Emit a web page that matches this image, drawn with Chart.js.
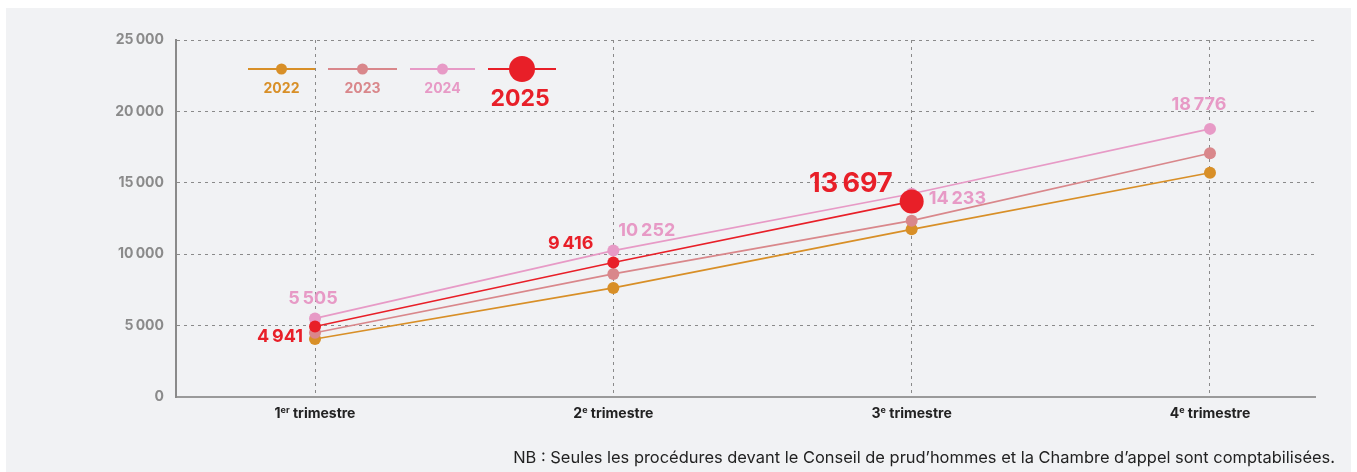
<!DOCTYPE html>
<html>
<head>
<meta charset="utf-8">
<script src="https://cdn.jsdelivr.net/npm/chart.js@4"></script>
<style>
  html, body { margin: 0; padding: 0; background: #fff; }
  #panel {
    position: absolute; left: 6px; top: 8px; width: 1345px; height: 464px;
    background: #F1F2F4;
  }
  #wrap { position: absolute; left: 0; top: 0; width: 1357px; height: 472px; }
  #note {
    position: absolute; right: 22px; top: 447px;
    font-family: Inter, "Noto Sans", sans-serif; font-size: 16.45px; color: #222;
  }
</style>
</head>
<body>
<div id="panel"></div>
<div id="wrap"><canvas id="chart" width="1357" height="472"></canvas></div>
<div id="note">NB : Seules les procédures devant le Conseil de prud’hommes et la Chambre d’appel sont comptabilisées.</div>
<script>
// Quarters (x categories)
const quarters = ['1', '2', '3', '4'];
const quarterSup = ['er', 'e', 'e', 'e'];
const quarterWord = 'trimestre';

// Series
const years = ['2022', '2023', '2024', '2025'];
const values2022 = [4060, 7640, 11740, 15700];
const values2023 = [4500, 8620, 12350, 17070];
const values2024 = [5505, 10252, 14233, 18776];
const values2025 = [4941, 9416, 13697, null];

const yTicks = [0, 5000, 10000, 15000, 20000, 25000];

const colors = {
  '2022': '#D88F27',
  '2023': '#D9878B',
  '2024': '#E79AC6',
  '2025': '#E81F28'
};

const FONT = 'Inter, "Noto Sans", sans-serif';

function fmt(v) {
  return String(v).replace(/\B(?=(\d{3})+(?!\d))/g, '\u202F');
}

function toPoints(arr) {
  return arr.map((v, i) => ({ x: i, y: v }));
}

// label placement for the shown values: [dx, dy, align, size]
const labelPlace = {
  '2024': [[-2, -20, 'center', 18], [5, -20, 'left', 18], [17, 5, 'left', 18], [-11, -24, 'center', 18]],
  '2025': [[-12, 10, 'right', 18], [-20, -19, 'right', 18], [-19, -18, 'right', 27]]
};

const valueLabels = {
  id: 'valueLabels',
  afterDatasetsDraw(chart) {
    const ctx = chart.ctx;
    chart.data.datasets.forEach((ds, di) => {
      const place = labelPlace[ds.label];
      if (!place) return;
      const meta = chart.getDatasetMeta(di);
      meta.data.forEach((pt, i) => {
        const v = ds.data[i];
        if (!v || v.y === null || !place[i]) return;
        const [dx, dy, align, size] = place[i];
        ctx.save();
        ctx.font = `bold ${size}px ${FONT}`;
        ctx.fillStyle = ds.borderColor;
        ctx.textAlign = align;
        ctx.textBaseline = 'middle';
        ctx.fillText(fmt(v.y), pt.x + dx, pt.y + dy);
        ctx.restore();
      });
    });
  }
};

// x labels with superscripts
const quarterLabels = {
  id: 'quarterLabels',
  afterDraw(chart) {
    const ctx = chart.ctx;
    const xs = chart.scales.x;
    const y = chart.chartArea.bottom + 17;
    quarters.forEach((q, i) => {
      const cx = xs.getPixelForValue(i);
      ctx.save();
      ctx.fillStyle = '#222';
      ctx.textBaseline = 'middle';
      ctx.font = `bold 14px ${FONT}`;
      const w1 = ctx.measureText(q).width;
      const w3 = ctx.measureText(' ' + quarterWord).width;
      ctx.font = `bold 9px ${FONT}`;
      const w2 = ctx.measureText(quarterSup[i]).width;
      let x = cx - (w1 + w2 + w3) / 2;
      ctx.textAlign = 'left';
      ctx.font = `bold 14px ${FONT}`;
      ctx.fillText(q, x, y);
      ctx.font = `bold 9px ${FONT}`;
      ctx.fillText(quarterSup[i], x + w1, y - 4);
      ctx.font = `bold 14px ${FONT}`;
      ctx.fillText(' ' + quarterWord, x + w1 + w2, y);
      ctx.restore();
    });
  }
};

// legend: line + dot, year below
const legendPos = [[248, 315], [328, 397], [410, 475], [488, 556]];
const customLegend = {
  id: 'customLegend',
  afterDraw(chart) {
    const ctx = chart.ctx;
    years.forEach((yr, i) => {
      const [x0, x1] = legendPos[i];
      const cx = (x0 + x1) / 2;
      const big = yr === '2025';
      ctx.save();
      ctx.strokeStyle = colors[yr];
      ctx.fillStyle = colors[yr];
      ctx.lineWidth = 2;
      ctx.beginPath();
      ctx.moveTo(x0, 69);
      ctx.lineTo(x1, 69);
      ctx.stroke();
      ctx.beginPath();
      ctx.arc(cx, 69, big ? 13 : 5.5, 0, Math.PI * 2);
      ctx.fill();
      ctx.textAlign = 'center';
      ctx.textBaseline = 'middle';
      ctx.font = big ? `bold 23px ${FONT}` : `bold 14px ${FONT}`;
      ctx.fillText(yr, cx - (big ? 2 : 0), big ? 99 : 89);
      ctx.restore();
    });
  }
};

function series(yr, values, radius) {
  return {
    label: yr,
    data: toPoints(values),
    borderColor: colors[yr],
    backgroundColor: colors[yr],
    pointBackgroundColor: colors[yr],
    pointBorderWidth: 0,
    pointRadius: radius,
    borderWidth: 1.6,
    spanGaps: false
  };
}

new Chart(document.getElementById('chart'), {
  type: 'line',
  data: {
    datasets: [
      series('2025', values2025, [6, 6, 12, 0]),
      series('2024', values2024, 6),
      series('2023', values2023, 6),
      series('2022', values2022, 6)
    ]
  },
  options: {
    responsive: false,
    animation: false,
    layout: { padding: { left: 0, top: 40, right: 42, bottom: 0 } },
    plugins: { legend: { display: false }, tooltip: { enabled: false } },
    scales: {
      x: {
        type: 'linear',
        min: -0.466,
        max: 3.352,
        afterBuildTicks(scale) { scale.ticks = quarters.map((q, i) => ({ value: i })); },
        afterFit(scale) { scale.height = 75; },
        ticks: { display: false },
        grid: { color: '#8a8a8a', lineWidth: 1, drawTicks: false },
        border: { color: '#9a9a9a', width: 2, dash: [3, 4] }
      },
      y: {
        min: 0,
        max: 25000,
        afterBuildTicks(scale) { scale.ticks = yTicks.map(v => ({ value: v })); },
        afterFit(scale) { scale.width = 176; },
        ticks: {
          color: '#8a8a8a',
          font: { family: FONT, size: 14, weight: 'bold' },
          padding: 12,
          callback: v => fmt(v)
        },
        grid: { color: '#8a8a8a', lineWidth: 1, drawTicks: false },
        border: { color: '#8a8a8a', width: 2, dash: [3, 4] }
      }
    }
  },
  plugins: [valueLabels, quarterLabels, customLegend]
});
</script>
</body>
</html>
